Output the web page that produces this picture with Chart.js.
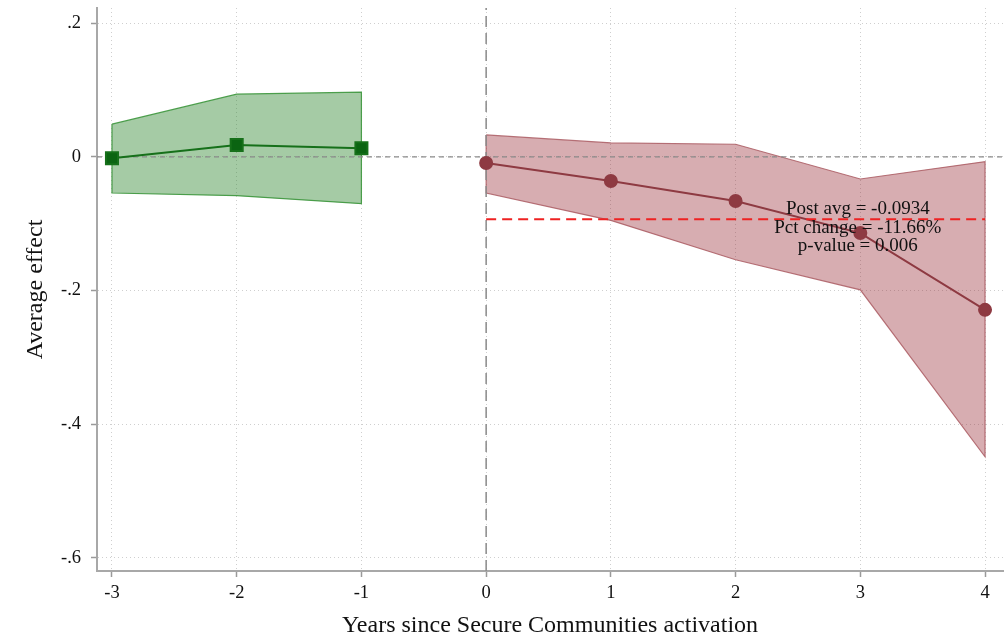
<!DOCTYPE html>
<html>
<head>
<meta charset="utf-8">
<script src="https://cdn.jsdelivr.net/npm/chart.js@4.4.1/dist/chart.umd.min.js"></script>
<style>
  html, body { margin: 0; padding: 0; background: #fff; }
  #wrap { width: 1006px; height: 640px; }
</style>
</head>
<body>
<div id="wrap"><canvas id="es" width="1006" height="640"></canvas></div>
<script>
// event-study estimates
const preYears = [-3, -2, -1];
const preEst   = [-0.002, 0.018, 0.013];
const preHi    = [0.049, 0.094, 0.097];
const preLo    = [-0.054, -0.058, -0.070];

const postYears = [0, 1, 2, 3, 4];
const postEst   = [-0.009, -0.036, -0.066, -0.114, -0.229];
const postHi    = [0.033, 0.021, 0.019, -0.033, -0.007];
const postLo    = [-0.054, -0.095, -0.154, -0.199, -0.449];

const postAvg = -0.0934;
const noteLines = ['Post avg = -0.0934', 'Pct change = -11.66%', 'p-value = 0.006'];

const xTicks = [-3, -2, -1, 0, 1, 2, 3, 4];
const xTickLabels = ['-3', '-2', '-1', '0', '1', '2', '3', '4'];
const yTicks = [0.2, 0, -0.2, -0.4, -0.6];
const yTickLabels = ['.2', '0', '-.2', '-.4', '-.6'];

const xMin = -3.12, xMax = 4.144;
const yMin = -0.62, yMax = 0.223;

const pts = (xs, ys) => xs.map((x, i) => ({ x: x, y: ys[i] }));
// closed polygon: upper edge left->right, lower edge right->left
const band = (xs, hi, lo) => {
  const up = pts(xs, hi);
  const down = pts(xs, lo).reverse();
  return up.concat(down, [up[0]]);
};

const serif = '"Liberation Serif", "DejaVu Serif", serif';

const notePlugin = {
  id: 'note',
  afterDatasetsDraw(chart) {
    const { ctx, scales } = chart;
    const cx = scales.x.getPixelForValue(2.98);
    const cy = scales.y.getPixelForValue(-0.078);
    ctx.save();
    ctx.fillStyle = '#111';
    ctx.font = '19px ' + serif;
    ctx.textAlign = 'center';
    ctx.textBaseline = 'middle';
    noteLines.forEach((t, i) => ctx.fillText(t, cx, cy + i * 18.5));
    ctx.restore();
  }
};

// no extra room for tick labels hanging over the ends
const noPad = s => { s.paddingTop = 0; s.paddingBottom = 0; s.paddingLeft = 0; s.paddingRight = 0; };

new Chart(document.getElementById('es'), {
  type: 'line',
  data: {
    datasets: [
      {
        label: 'post avg',
        data: [{ x: 0, y: postAvg }, { x: 4, y: postAvg }],
        borderColor: '#ee2222',
        borderWidth: 2,
        borderDash: [10, 6],
        pointRadius: 0,
        fill: false
      },
      {
        label: 'post',
        data: pts(postYears, postEst),
        borderColor: '#8e3a42',
        backgroundColor: '#8e3a42',
        borderWidth: 2,
        pointRadius: 6,
        pointStyle: 'circle',
        fill: false
      },
      {
        label: 'pre',
        data: pts(preYears, preEst),
        borderColor: '#16701a',
        backgroundColor: '#0b6412',
        borderWidth: 2,
        pointRadius: 8.5,
        pointStyle: 'rect',
        fill: false
      },
      {
        label: 'zero',
        data: [{ x: xMin, y: 0 }, { x: xMax, y: 0 }],
        borderColor: '#8a8a8a',
        borderWidth: 1.2,
        borderDash: [5, 4],
        pointRadius: 0,
        fill: false
      },
      {
        label: 'event',
        data: [{ x: 0, y: yMin }, { x: 0, y: yMax }],
        borderColor: '#8a8a8a',
        borderWidth: 1.5,
        borderDash: [11, 6],
        pointRadius: 0,
        fill: false
      },
      {
        label: 'post CI',
        data: band(postYears, postHi, postLo),
        borderColor: 'rgba(170,90,98,0.85)',
        backgroundColor: 'rgba(150,40,50,0.38)',
        borderWidth: 1.2,
        pointRadius: 0,
        fill: 'shape'
      },
      {
        label: 'pre CI',
        data: band(preYears, preHi, preLo),
        borderColor: 'rgba(60,150,60,0.9)',
        backgroundColor: 'rgba(40,130,40,0.42)',
        borderWidth: 1.2,
        pointRadius: 0,
        fill: 'shape'
      }
    ]
  },
  options: {
    responsive: false,
    animation: false,
    devicePixelRatio: 1,
    layout: { autoPadding: false, padding: { top: 8, right: 3, left: 0, bottom: 0 } },
    plugins: { legend: { display: false }, tooltip: { enabled: false } },
    elements: { line: { tension: 0 } },
    scales: {
      x: {
        type: 'linear',
        min: xMin,
        max: xMax,
        afterFit: s => { s.height = 69; noPad(s); },
        afterBuildTicks: s => { s.ticks = xTicks.map(v => ({ value: v })); },
        grid: { color: '#cfcfcf', lineWidth: 1, tickColor: '#9a9a9a', tickLength: 6, tickWidth: 1.5 },
        border: { color: '#a8a8a8', width: 2, dash: [1, 3] },
        ticks: {
          padding: 5,
          color: '#111',
          font: { family: serif, size: 18.5 },
          maxRotation: 0,
          callback: v => xTickLabels[xTicks.indexOf(v)]
        },
        title: {
          display: true,
          text: 'Years since Secure Communities activation',
          color: '#111',
          font: { family: serif, size: 24 },
          padding: { top: 0, bottom: 0 }
        }
      },
      y: {
        type: 'linear',
        min: yMin,
        max: yMax,
        afterFit: s => { s.width = 97; noPad(s); },
        afterBuildTicks: s => { s.ticks = yTicks.map(v => ({ value: v })); },
        grid: { color: '#cfcfcf', lineWidth: 1, tickColor: '#9a9a9a', tickLength: 6, tickWidth: 1.5 },
        border: { color: '#a8a8a8', width: 2, dash: [1, 3] },
        ticks: {
          padding: 10,
          color: '#111',
          font: { family: serif, size: 18.5 },
          callback: v => yTickLabels[yTicks.indexOf(v)]
        },
        title: {
          display: true,
          text: 'Average effect',
          color: '#111',
          font: { family: serif, size: 24 },
          padding: { top: 21, bottom: 0 }
        }
      }
    }
  },
  plugins: [notePlugin]
});
</script>
</body>
</html>
